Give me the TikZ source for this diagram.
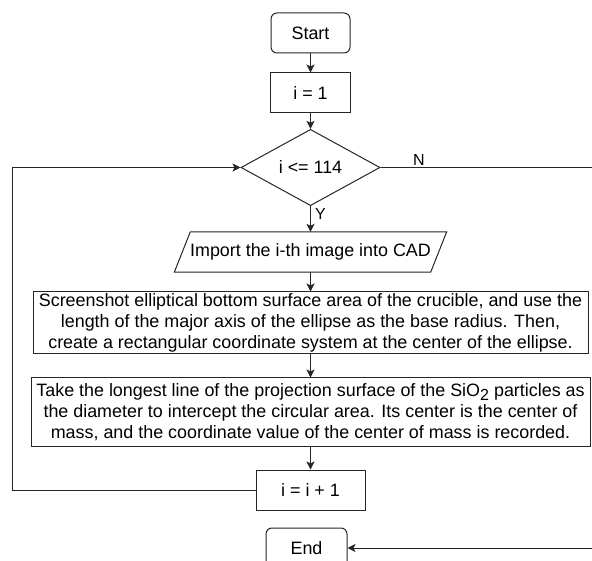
\documentclass[tikz,border=0pt]{standalone}
\usepackage{fontspec}
\setmainfont{Liberation Sans}
\usetikzlibrary{arrows.meta,calc,shapes.geometric}
\begin{document}
\begin{tikzpicture}[x=1pt,y=-1pt,
  every node/.style={font=\fontsize{17.9}{20.7}\selectfont, text=black},
  proc/.style={draw=black!85, line width=1pt, rectangle, inner sep=0pt, align=center},
  term/.style={proc, rounded corners=6pt},
  lbl/.style={font=\fontsize{16}{18}\selectfont, inner sep=0pt},
  ln/.style={draw=black!85, line width=1pt},
  arr/.style={ln, -{Stealth[length=8pt,width=8pt,inset=2pt]}}]
\useasboundingbox (0,0) rectangle (592,561);

\node[term, minimum width=79pt, minimum height=40pt] (start) at (310.5,33) {Start};
\node[proc, minimum width=80pt, minimum height=40pt] (i1) at (310.5,93) {i = 1};
\node[diamond, draw=black!85, line width=1pt, minimum width=139pt, minimum height=69pt, inner sep=0pt] (dec) at (310.5,167.5) {i <= 114};
\node[inner sep=0pt, minimum width=256pt, minimum height=40pt] (imp) at (310.5,252) {Import the i-th image into CAD};
\draw[ln] ($(imp.north west)+(8,0)$) -- ($(imp.north east)+(8,0)$) -- ($(imp.south east)+(-8,0)$) -- ($(imp.south west)+(-8,0)$) -- cycle;
\node[proc, minimum width=555pt, minimum height=62pt] (b2) at (310.5,323) {Screenshot elliptical bottom surface area of the crucible, and use the\\ length of the major axis of the ellipse as the base radius. Then,\\ create a rectangular coordinate system at the center of the ellipse.};
\node[proc, minimum width=559pt, minimum height=68pt] (b3) at (310.5,412) {Take the longest line of the projection surface of the SiO\raisebox{-4pt}{\fontsize{16}{16}\selectfont 2} particles as\\ the diameter to intercept the circular area. Its center is the center of\\ mass, and the coordinate value of the center of mass is recorded.};
\node[proc, minimum width=109pt, minimum height=40pt] (inc) at (310.5,490) {i = i + 1};
\node[term, minimum width=81pt, minimum height=40pt] (end) at (306.5,548) {End};

\coordinate (nR) at (592,167.5);
\coordinate (eR) at (592,548);
\coordinate (lT) at (12,167.5);

\draw[arr] (start) -- (i1);
\draw[arr] (i1) -- (dec);
\draw[arr] (dec) -- (imp);
\node[lbl, anchor=west] (ylab) at (315,214) {Y};
\draw[arr] (imp) -- (b2);
\draw[arr] (b2) -- (b3);
\draw[arr] (b3) -- (inc);
\draw[arr] (inc.west) -- (inc.west -| lT) -- (lT) -- (dec.west);
\draw[ln] (dec.east) -- (nR);
\node[lbl] (nlab) at (419,160) {N};
\draw[arr] (eR) -- (end.east);
\end{tikzpicture}
\end{document}
